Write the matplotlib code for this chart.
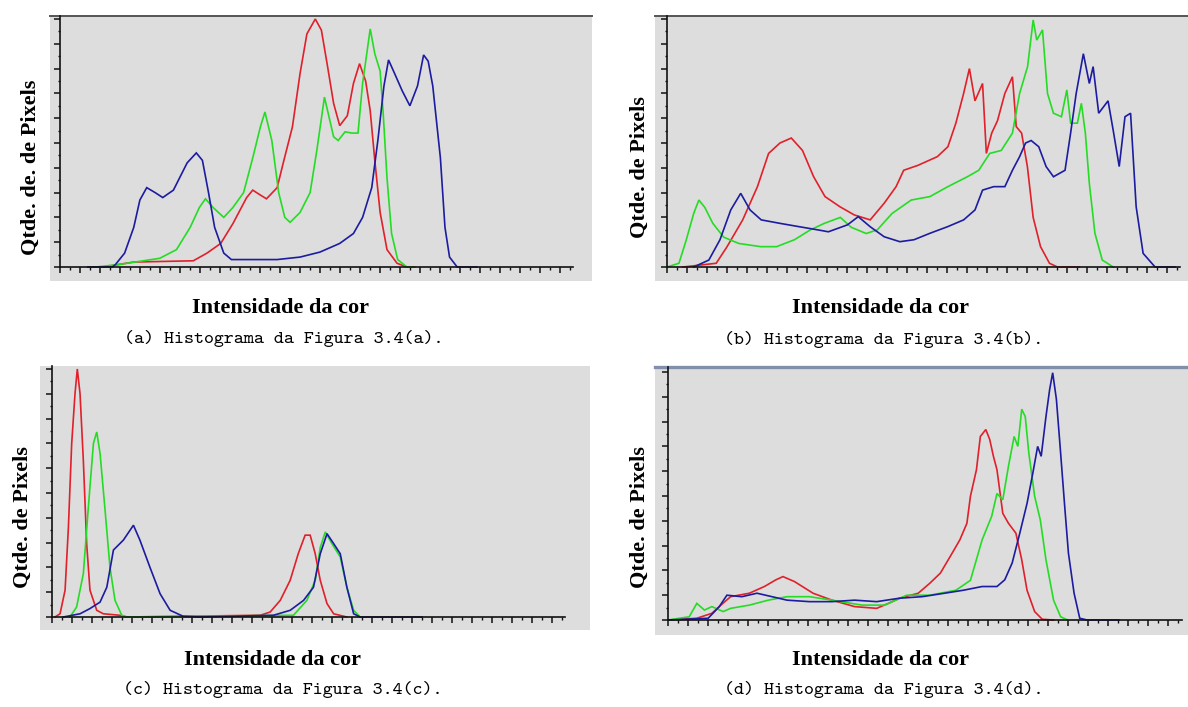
import numpy as np
import matplotlib
matplotlib.use("Agg")
import matplotlib.pyplot as plt

# ---- data: intensity (0-255) vs relative pixel count (0-100) ----
# (a)
a_red_x = [0, 10, 30, 69, 78, 87, 95, 104, 108, 113, 117, 124, 128, 134, 139, 143.5, 149, 153, 157,
           161, 165, 170, 174, 178, 182, 185, 188, 191.5, 196, 202.6, 209, 214]
a_red_y = [0, 0, 2, 2.5, 5.6, 9.5, 17.5, 28, 31, 29, 27.5, 32, 42, 56.5, 78, 94, 100, 95.5, 81,
           66, 57, 61, 74, 82, 75, 63, 43, 22, 7, 1.5, 0, 0]
a_green_x = [5, 20, 47, 58, 67, 73, 77, 82, 89, 95, 102, 108, 113, 116, 120.5, 125, 129, 132.5, 139,
             145.6, 150, 155, 161, 164, 168.5, 173, 177, 180, 185, 188, 191.5, 193.5, 196, 199, 203, 209, 214]
a_green_y = [0, 1, 3.5, 7, 16, 24, 27.5, 24, 20, 24, 30, 44, 56.5, 62.5, 51, 30, 20, 18, 22,
             30, 47, 68.5, 52.5, 51, 54.5, 54, 54, 74, 96, 86, 79, 62, 36, 13.5, 3, 0, 0]
a_blue_x = [0, 16, 18, 24, 30, 34, 38.5, 44, 49, 56, 65, 71, 75, 79, 83, 89, 94, 124, 139, 152, 165,
            174, 180, 186, 190, 194, 197, 201, 206, 211, 216, 220, 223, 226, 231, 234, 237, 242, 255]
a_blue_y = [0, 0, 1, 5.6, 16, 27, 32, 30, 28, 31, 42, 46, 43, 30, 16, 5.6, 3, 3, 4, 6, 9.5,
            13.5, 20, 32, 51, 73, 83.5, 78, 71, 65, 73, 85.5, 83, 73, 44, 16, 4, 0, 0]

# (b)
b_red_x = [8, 24.7, 30, 38, 45.4, 51, 56.7, 62.4, 68, 73.6, 79.3, 86.8, 94, 102, 109, 115, 118.8, 126,
           135.7, 141, 145, 148.9, 151.8, 154.6, 158.4, 160.3, 163, 165.9, 169.6, 173.4, 175.3, 178,
           180.9, 183.8, 187.5, 192, 196, 207]
b_red_y = [0, 1.5, 8, 19, 32.4, 45.8, 50, 52, 47, 36.4, 28.4, 24.3, 21, 19, 25.7, 32.4, 39, 41,
           44.5, 48.5, 58, 70, 80, 67, 74, 45.8, 54, 59, 70, 76.7, 56.6, 54,
           40.5, 20, 8.2, 1.5, 0, 0]
b_green_x = [0, 6, 9.7, 13.4, 16, 19, 23, 28.5, 36, 47, 55, 64, 72, 79, 87, 92.5, 100, 105.6, 113,
             122.6, 132, 141, 150.8, 156.5, 162, 167.8, 173.4, 177, 181, 183.8, 185.6, 188.5, 191,
             194, 198, 200.7, 202.6, 206, 208, 210, 212, 214.8, 218.5, 224]
b_green_y = [0, 1.5, 11, 21.6, 27, 24, 17.6, 12, 9.5, 8.2, 8.2, 11, 15, 17.6, 20, 16, 13.5, 15, 21.6,
             27, 28.4, 32.4, 36.4, 39, 45.8, 47, 54, 70, 80.8, 99.6, 91.5, 95.6, 70,
             62, 60.6, 71.4, 58, 58, 66, 54, 33.7, 13.6, 2.8, 0]
b_blue_x = [13.4, 21, 26.6, 32, 37, 41.7, 47.3, 56.7, 66, 75.5, 81, 90.6, 96, 101.9, 109, 116.9, 124,
            132, 141, 148.9, 154.6, 158.4, 164, 169.6, 173.4, 177, 180, 182.8, 186.6, 190.3, 194,
            199.8, 202.6, 205.4, 209, 212, 213.9, 216.7, 221.4, 224, 227, 229.9, 232.7, 235.5, 239, 245, 255]
b_blue_y = [0, 2.8, 11, 23, 29.7, 23, 19, 17.6, 16.3, 15, 14.2, 17, 20.3, 16.3, 12.2, 10.2, 11,
            13.6, 16.3, 19, 23, 31, 32.4, 32.4, 39, 44.5, 50, 51, 48.5, 40.5, 36.4,
            39, 54, 70, 86, 74, 80.8, 62, 67, 55, 40.5, 60.6, 62, 24.3, 5.5, 0, 0]

# (c)
c_red_x = [0, 3.5, 7, 9.3, 11.6, 13.9, 15.5, 17.4, 19.7, 22, 24.3, 29, 33.6, 45, 50, 142.6, 149.5,
           156.5, 163.4, 169, 173.8, 177.3, 180.8, 184.3, 189, 193.6, 202.8]
c_red_y = [0, 1.3, 10.8, 36, 70, 90, 100, 90, 63, 29.6, 10.8, 2.7, 1.3, 0.7, 0, 0.7, 2,
           6.7, 14.8, 25.5, 33, 33, 25.5, 14.8, 5.4, 1.3, 0]
c_green_x = [10.4, 15, 19.7, 23, 26.7, 29, 31.3, 34.8, 38.2, 41.7, 46.4, 50, 165.7, 175, 180.8,
             184.3, 187.8, 192.4, 198.2, 202.8, 207.5, 212]
c_green_y = [0, 4, 17.5, 43, 70, 74.6, 66, 43, 20, 6.7, 0.7, 0, 0.7, 6.7, 14.8,
             28, 34.3, 29.6, 24.2, 12, 2.7, 0]
c_blue_x = [5.8, 17.4, 24.3, 31.3, 36, 40.6, 47.5, 54.5, 59, 66, 73, 80, 89, 100, 151.8, 163.4,
            172.7, 179.6, 184.3, 189, 193.6, 198.2, 202.8, 207.5, 212, 255]
c_blue_y = [0, 1.3, 3.4, 6, 12, 27, 31, 37, 31, 20, 9.4, 2.7, 0.3, 0, 0.7, 2.7,
            6.7, 12, 25.5, 33.6, 29.6, 25.5, 12, 1.3, 0, 0]

# (d)
d_red_x = [0, 16.3, 24.8, 31, 35.4, 46, 54.5, 61, 65, 71.5, 82, 92.7, 105.5, 118, 124.6, 131, 141.5,
           148, 154, 160.7, 165, 169, 171, 174.4, 176.6, 179.7, 181.9, 184, 186, 189.3, 192.5,
           196.7, 200, 203, 207.3, 211.6, 218]
d_red_y = [0, 0.7, 2.7, 6.7, 9.4, 10.8, 13.5, 16.2, 17.5, 15.5, 10.8, 8, 5.4, 4.7, 6.7, 8.8, 10.8,
           14.8, 18.9, 27, 32.3, 39, 49.9, 60.6, 74, 76.8, 72.8, 66, 60.6, 43, 39,
           35, 24.3, 12, 3.4, 0.3, 0]
d_green_x = [0, 12, 16.3, 20.6, 24.8, 31.2, 35.4, 46, 56.7, 67.3, 80, 92.7, 109.7, 122.5, 135, 148,
             162.8, 171, 177.6, 183, 186, 189.3, 192.5, 195.7, 197.8, 200, 202, 204, 207.3,
             210.5, 213.7, 218, 222, 226]
d_green_y = [0, 1.3, 6.7, 4, 5.4, 3.4, 4.7, 6, 8, 9.4, 9.4, 8, 6, 6, 10, 10,
             12, 16, 32.3, 41.8, 51, 48.5, 62, 74, 70, 85, 82, 67.4, 49.9,
             40.4, 24.3, 8, 1.3, 0]
d_blue_x = [0, 22.7, 29, 33.3, 41.8, 50.3, 58.8, 67.3, 80, 92.7, 105.5, 118, 131, 143.7, 156.4, 167,
            177.6, 186, 190.4, 194.6, 198.9, 203, 206.3, 209, 211, 213.7, 215.8, 217.5, 219.6,
            221.7, 224.3, 226.4, 229.6, 232.8, 237, 255]
d_blue_y = [0, 0.7, 5.4, 10, 9.4, 10.8, 9.4, 8, 7.4, 7.4, 8, 7.4, 8.8, 9.4, 10.8, 12,
            13.5, 13.5, 16.2, 23, 35, 47, 59.3, 70, 66, 82, 93, 99.7, 89,
            70, 45.8, 27, 10.8, 0.7, 0, 0]

letters = ["a", "b", "c", "d"]
ylabels = ["Qtde. de. de Pixels", "Qtde. de Pixels", "Qtde. de Pixels", "Qtde. de Pixels"]
xlabel = "Intensidade da cor"
series = [
    [(a_red_x, a_red_y), (a_green_x, a_green_y), (a_blue_x, a_blue_y)],
    [(b_red_x, b_red_y), (b_green_x, b_green_y), (b_blue_x, b_blue_y)],
    [(c_red_x, c_red_y), (c_green_x, c_green_y), (c_blue_x, c_blue_y)],
    [(d_red_x, d_red_y), (d_green_x, d_green_y), (d_blue_x, d_blue_y)],
]

# ---- layout in pixels ----
W, H = 1188, 707
# box (L, R, T, B), spine x, axis y, px of intensity 0, px of 255, axis end, top line
layout = [
    dict(box=(50, 592, 16, 281), spine=60, axy=267, p0=88, p255=477, xend=573, top=("#555555", 1.4),
         xl=(280, 308), yl=(31, 167), cap=(284, 338)),
    dict(box=(655, 1188, 16, 281), spine=667, axy=267, p0=667, p255=1175, xend=1180, top=("#555555", 1.4),
         xl=(880, 308), yl=(640, 167), cap=(884, 340)),
    dict(box=(40, 590, 366, 630), spine=52, axy=617, p0=55, p255=422, xend=565, top=None,
         xl=(272, 660), yl=(23, 517), cap=(283, 690)),
    dict(box=(655, 1188, 367, 635), spine=668, axy=620, p0=668, p255=1119, xend=1182, top=("#8090aa", 2.4),
         xl=(880, 660), yl=(640, 517), cap=(884, 690)),
]
SY = 2.48  # px per unit in y
colors = ["#e0202a", "#25dc25", "#1c1ca0"]

fig = plt.figure(figsize=(W / 100, H / 100), dpi=100)

for i, lay in enumerate(layout):
    L, R, T, B = lay["box"]
    ax = fig.add_axes([L / W, 1 - B / H, (R - L) / W, (B - T) / H])
    ax.set_facecolor("#dddddd")
    s = (lay["p255"] - lay["p0"]) / 255.0
    ax.set_xlim((L - lay["p0"]) / s, (R - lay["p0"]) / s)
    ytop = (lay["axy"] - T) / SY
    ax.set_ylim(-(B - lay["axy"]) / SY, ytop)

    for (xs, ys), c in zip(series[i], colors):
        ax.plot(xs, ys, color=c, lw=1.2, solid_joinstyle="miter")

    sx = (lay["spine"] - lay["p0"]) / s
    xe = (lay["xend"] - lay["p0"]) / s
    ax.spines["right"].set_visible(False)
    ax.spines["left"].set_position(("data", sx))
    ax.spines["left"].set_bounds(0, ytop)
    ax.spines["bottom"].set_position(("data", 0))
    ax.spines["bottom"].set_bounds(sx, xe)
    for name in ["left", "bottom"]:
        ax.spines[name].set_linewidth(1.2)
        ax.spines[name].set_color("#111111")
        ax.spines[name].set_zorder(5)
    if lay["top"] is None:
        ax.spines["top"].set_visible(False)
    else:
        ax.spines["top"].set_color(lay["top"][0])
        ax.spines["top"].set_linewidth(lay["top"][1])

    step = 20 / s
    ax.set_xticks(np.arange(sx, xe + 0.01, step))
    ax.set_xticks(np.arange(sx + step / 2, xe, step), minor=True)
    ax.set_yticks(np.arange(0, 100.01, 10))
    ax.set_yticks(np.arange(5, 100, 10), minor=True)
    ax.tick_params(which="major", direction="out", length=4, width=1.1, color="#111111",
                   labelbottom=False, labelleft=False)
    ax.tick_params(which="minor", direction="out", length=1.8, width=1.0, color="#111111")

    fig.text(lay["xl"][0] / W, 1 - lay["xl"][1] / H, xlabel, ha="center", va="center",
             fontfamily="Liberation Serif", fontweight="bold", fontsize=16)
    fig.text(lay["yl"][0] / W, 1 - lay["yl"][1] / H, ylabels[i], ha="center", va="center",
             rotation=90, fontfamily="Liberation Serif", fontweight="bold", fontsize=16)
    fig.text(lay["cap"][0] / W, 1 - lay["cap"][1] / H,
             "(%s) Histograma da Figura 3.4(%s)." % (letters[i], letters[i]),
             ha="center", va="center", fontfamily="cmtt10", fontsize=13.7)

fig.savefig("out.png", dpi=100, facecolor="white")
